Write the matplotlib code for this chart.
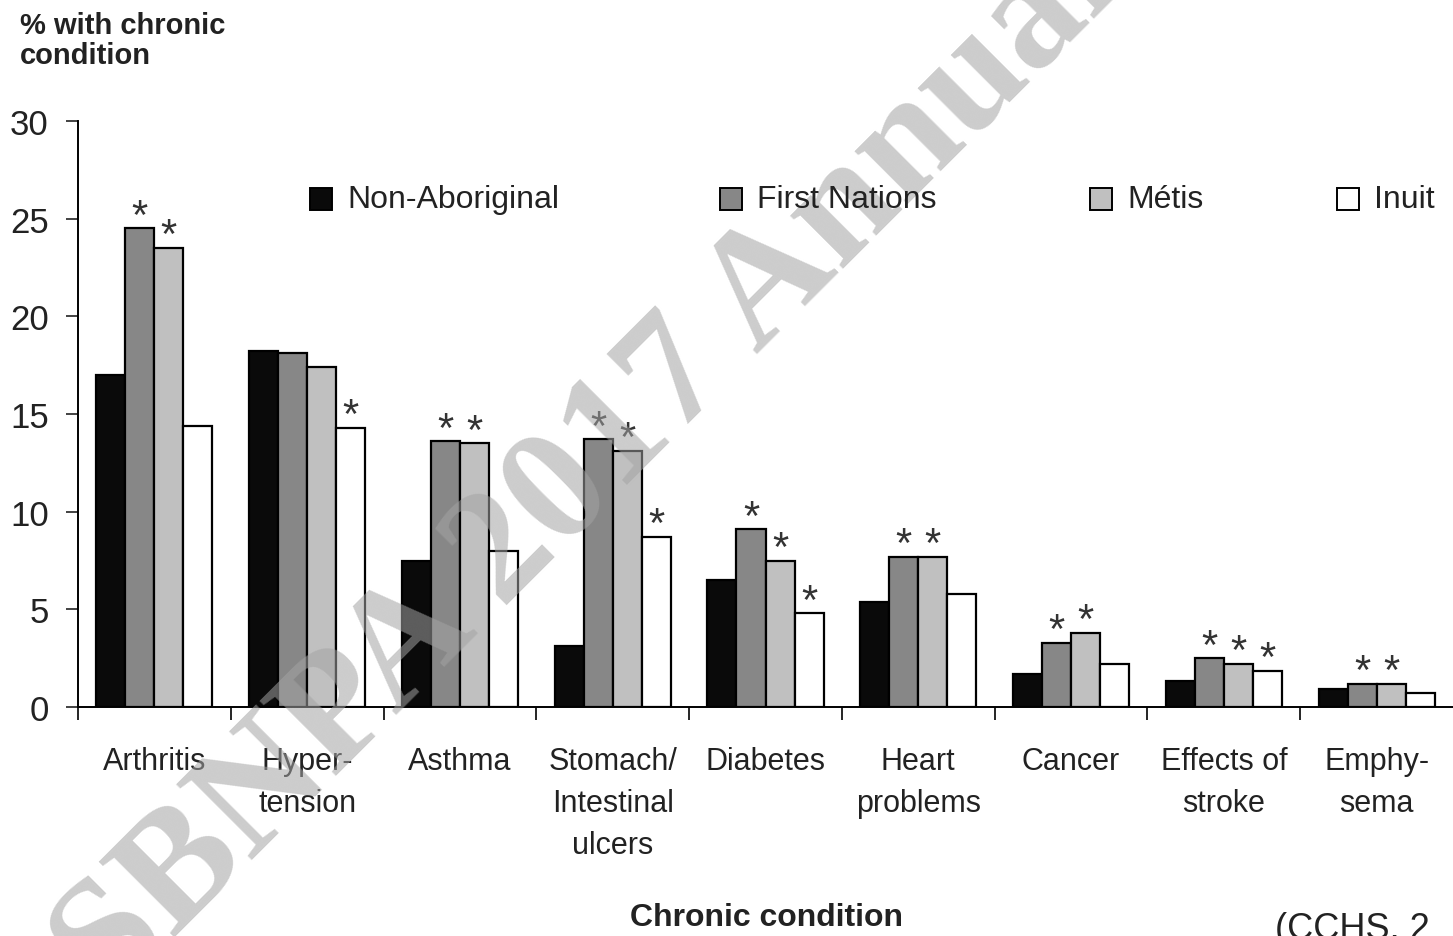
import matplotlib
matplotlib.use("Agg")
import matplotlib.pyplot as plt
from matplotlib.patches import Rectangle
import numpy as np

# categories and series (% with chronic condition)
categories = ["Arthritis", "Hyper-\ntension", "Asthma", "Stomach/\nIntestinal\nulcers",
              "Diabetes", "Heart\nproblems", "Cancer", "Effects of\nstroke", "Emphy-\nsema"]
series_names = ["Non-Aboriginal", "First Nations", "Métis", "Inuit"]
non_aboriginal = [17.0, 18.2, 7.5, 3.1, 6.5, 5.4, 1.7, 1.35, 0.9]
first_nations = [24.5, 18.1, 13.6, 13.7, 9.1, 7.7, 3.3, 2.5, 1.2]
metis = [23.5, 17.4, 13.5, 13.1, 7.5, 7.7, 3.8, 2.2, 1.2]
inuit = [14.4, 14.3, 8.0, 8.7, 4.8, 5.8, 2.2, 1.85, 0.7]
# significance markers (1 = asterisk)
star_fn = [1, 0, 1, 1, 1, 1, 1, 1, 1]
star_metis = [1, 0, 1, 1, 1, 1, 1, 1, 1]
star_inuit = [0, 1, 0, 1, 1, 0, 0, 1, 0]

colors = ["#0a0a0a", "#878787", "#c0c0c0", "#ffffff"]
plt.rcParams['font.family'] = ["Liberation Sans", "DejaVu Sans"]
txt = "#222222"

W, H = 1453, 937
fig = plt.figure(figsize=(W / 100, H / 100), dpi=100)
ax = fig.add_axes([78 / W, 229 / H, 1.0 - 78 / W, 586 / H])

values = [non_aboriginal, first_nations, metis, inuit]
stars = [None, star_fn, star_metis, star_inuit]
x = np.arange(len(categories)) + 0.5
w = 0.19
for k, (vals, col) in enumerate(zip(values, colors)):
    pos = x + (k - 1.5) * w
    ax.bar(pos, vals, width=w, color=col, edgecolor="black", linewidth=1.6, zorder=2)
    if stars[k] is not None:
        for xi, v, s in zip(pos, vals, stars[k]):
            if s:
                ax.annotate("*", (xi, v), xytext=(0, -6), textcoords="offset points",
                            ha="center", va="bottom", fontsize=30, color="#333333")

ax.set_xlim(0, len(categories))
ax.set_ylim(0, 30)
ax.set_yticks([0, 5, 10, 15, 20, 25, 30])
ax.tick_params(axis="y", labelsize=25, length=9, width=1.2, pad=12, colors=txt)
ax.set_xticks(np.arange(len(categories)))
ax.set_xticklabels([])
ax.tick_params(axis="x", which="major", length=9, width=1.2)
ax.set_xticks(x, minor=True)
ax.set_xticklabels(categories, minor=True, fontsize=22, linespacing=1.52, va="top")
ax.tick_params(axis="x", which="minor", length=0, pad=28, colors=txt)
for s in ["top", "right"]:
    ax.spines[s].set_visible(False)
ax.spines["left"].set_linewidth(1.4)
ax.spines["bottom"].set_linewidth(1.4)

# legend entries laid out along one row
legend_x = [310, 720, 1090, 1337]
for name, col, lx in zip(series_names, colors, legend_x):
    fig.patches.append(Rectangle((lx / W, 1 - 211 / H), 22 / W, 22 / H, facecolor=col,
                                 edgecolor="black", linewidth=1.4,
                                 transform=fig.transFigure, figure=fig))
    fig.text((lx + 37) / W, 1 - 200 / H, name, fontsize=23, va="center", ha="left",
             color=txt)

fig.text(20 / W, 1 - 12 / H, "% with chronic\ncondition", fontsize=21,
         fontweight="bold", va="top", ha="left", linespacing=1.1, color=txt)
fig.text(766 / W, 1 - 918 / H, "Chronic condition", fontsize=23, fontweight="bold",
         ha="center", va="center", color=txt)
fig.text(1275 / W, 1 - 947 / H, "(CCHS, 2", fontsize=26, ha="left", va="bottom",
         color=txt)

# diagonal watermark (drawn over the bars, under the figure texts)
fig.text(0.405, 0.5, "SBNPA 2017 Annual", fontsize=118, fontweight="bold",
         family=["Liberation Serif", "DejaVu Serif"], rotation=45, color="#a3a3a3",
         alpha=0.55, ha="center", va="center", zorder=2.5)

fig.savefig("out.png", dpi=100)
